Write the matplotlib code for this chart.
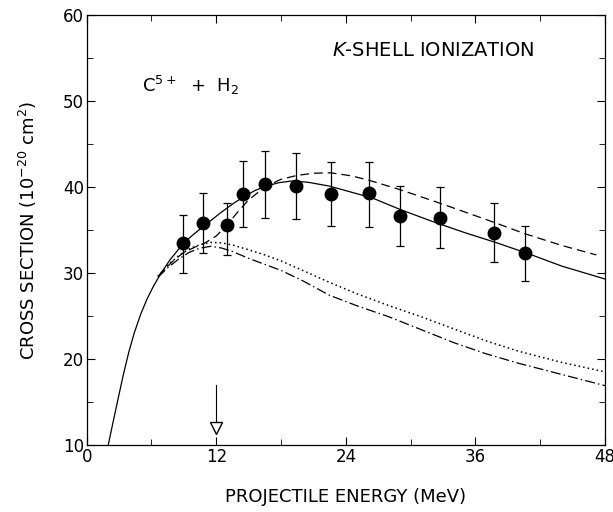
import numpy as np
import matplotlib
matplotlib.use('Agg')
import matplotlib.pyplot as plt
from matplotlib.ticker import MultipleLocator

# measured cross sections (MeV, 1e-20 cm^2)
energy = [8.94, 10.73, 13.04, 14.49, 16.52, 19.43, 22.66, 26.11, 29.01, 32.75, 37.71, 40.55]
sigma = [33.45, 35.8, 35.6, 39.15, 40.3, 40.15, 39.2, 39.27, 36.63, 36.36, 34.69, 32.3]
sigma_lo = [30.0, 32.3, 32.1, 35.3, 36.4, 36.25, 35.5, 35.4, 33.1, 32.9, 31.3, 29.1]
sigma_hi = [36.8, 39.3, 38.1, 43.0, 44.2, 44.0, 42.94, 42.94, 40.1, 40.0, 38.1, 35.5]

# theory curves
solid_x = [2.0, 2.4, 3.0, 3.4, 3.9, 4.4, 5.0, 5.6, 6.2, 6.9, 7.7, 8.6, 8.9, 10.0, 11.2, 12.4, 13.6,
           14.6, 15.6, 16.6, 17.8, 19.0, 20.5, 22.5, 24.5, 26.5, 29.0, 32.0, 35.0, 38.0, 41.0, 44.0, 48.0]
solid_y = [10.0, 12.4, 15.9, 18.2, 20.8, 23.0, 25.2, 27.0, 28.5, 30.0, 31.5, 32.9, 33.4, 34.6, 35.8, 37.0, 38.1,
           38.9, 39.6, 40.1, 40.5, 40.7, 40.55, 40.1, 39.4, 38.7, 37.4, 36.0, 34.7, 33.5, 32.2, 30.8, 29.3]

dash_x = [6.6, 7.1, 8.0, 8.9, 10.0, 10.7, 12.0, 13.0, 14.0, 15.0, 16.0, 17.0, 18.0, 19.5, 21.0,
          22.6, 24.5, 26.1, 29.0, 32.75, 35.0, 37.7, 40.5, 44.0, 47.2]
dash_y = [29.6, 30.3, 31.4, 32.3, 33.0, 33.3, 34.3, 35.6, 37.1, 38.5, 39.5, 40.3, 40.9, 41.35, 41.6,
          41.65, 41.3, 40.8, 39.7, 38.1, 37.1, 35.9, 34.6, 33.2, 32.1]

dot_x = [6.6, 7.5, 8.5, 9.5, 10.5, 11.5, 12.5, 13.5, 15.0, 16.5, 18.0, 20.0, 22.5, 25.0, 28.0,
         31.0, 34.0, 37.0, 40.0, 44.0, 48.0]
dot_y = [29.6, 30.9, 32.0, 32.8, 33.3, 33.55, 33.5, 33.25, 32.7, 32.1, 31.4, 30.3, 28.9, 27.6, 26.2,
         24.9, 23.5, 22.1, 20.9, 19.6, 18.5]

dashdot_x = [6.6, 7.5, 8.5, 9.5, 10.5, 11.5, 12.5, 13.5, 15.0, 16.5, 18.0, 20.0, 22.5, 25.0, 28.0,
             31.0, 34.0, 37.0, 40.0, 44.0, 48.0]
dashdot_y = [29.5, 30.6, 31.6, 32.4, 32.9, 33.1, 32.9, 32.5, 31.7, 31.0, 30.3, 29.1, 27.4, 26.2, 24.9,
             23.4, 21.9, 20.6, 19.5, 18.2, 16.9]

arrow_e = 12.0


def main():
    fig = plt.figure(figsize=(6.13, 5.12), dpi=100)
    ax = fig.add_axes([0.1414, 0.1309, 0.8455, 0.8398])

    lw = 0.9
    ax.plot(solid_x, solid_y, 'k-', lw=lw)
    ax.plot(dash_x, dash_y, 'k', lw=lw, dashes=(7, 4))
    ax.plot(dot_x, dot_y, 'k', lw=1.1, dashes=(1, 2))
    ax.plot(dashdot_x, dashdot_y, 'k', lw=lw, dashes=(8, 2.5, 1.2, 2.5))

    e = np.array(sigma)
    yerr = [e - np.array(sigma_lo), np.array(sigma_hi) - e]
    ax.errorbar(energy, sigma, yerr=yerr, fmt='o', color='k', ms=9,
                elinewidth=0.9, capsize=3, capthick=0.9, zorder=5)

    # threshold arrow
    ax.plot([arrow_e, arrow_e], [17.0, 12.6], 'k-', lw=0.8)
    ax.plot([arrow_e], [11.95], marker='v', ms=9, mfc='white', mec='k', mew=1.0)

    ax.set_xlim(0, 48)
    ax.set_ylim(10, 60)
    ax.xaxis.set_major_locator(MultipleLocator(12))
    ax.xaxis.set_minor_locator(MultipleLocator(6))
    ax.yaxis.set_major_locator(MultipleLocator(10))
    ax.yaxis.set_minor_locator(MultipleLocator(5))
    ax.tick_params(which='both', direction='in', top=True, right=True, labelsize=12, pad=2)
    ax.tick_params(which='major', length=6)
    ax.tick_params(which='minor', length=4)
    for s in ax.spines.values():
        s.set_linewidth(0.9)

    ax.set_xlabel('PROJECTILE ENERGY (MeV)', fontsize=13, labelpad=16)
    ax.set_ylabel('CROSS SECTION (10$^{-20}$ cm$^{2}$)', fontsize=13, labelpad=17)

    ax.text(22.7, 55.85, '$K$-SHELL IONIZATION', fontsize=14, va='center', ha='left')
    ax.text(5.1, 51.8, 'C$^{5+}$  +  H$_2$', fontsize=13, va='center', ha='left')

    plt.savefig('out.png', dpi=100)


if __name__ == '__main__':
    main()
